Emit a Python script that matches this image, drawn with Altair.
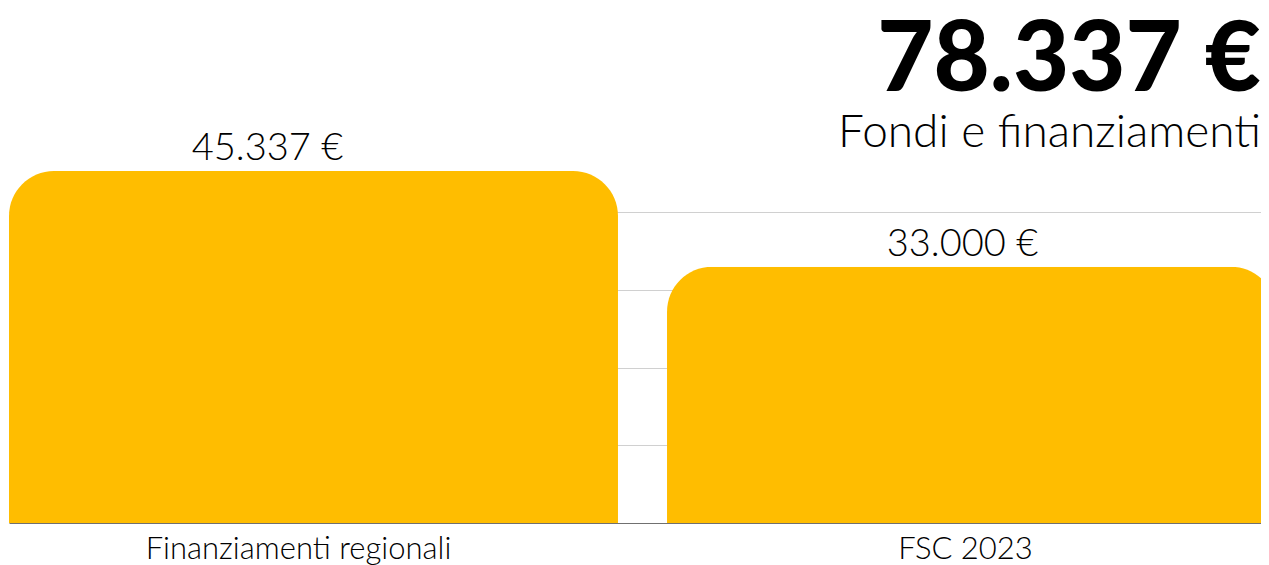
import altair as alt
import pandas as pd

categories = ["Finanziamenti regionali", "FSC 2023"]
values = [45337, 33000]
value_labels = ["45.337 €", "33.000 €"]
total_label = "78.337 €"
subtitle_text = "Fondi e finanziamenti"

df = pd.DataFrame({"cat": categories, "val": values, "lbl": value_labels})

BAR = "#FFBD00"

x = alt.X(
    "cat:N",
    sort=categories,
    scale=alt.Scale(range=[1, 1268], paddingInner=0.0745, paddingOuter=0),
    axis=alt.Axis(
        title=None,
        labelAngle=0,
        ticks=False,
        domainColor="#707070",
        domainWidth=1,
        labelFont="Lato",
        labelFontSize=31,
        labelFontWeight=300,
        labelColor="#000000",
        labelPadding=11,
        labelLimit=0,
        labelOffset={"condition": {"test": "datum.value === 'FSC 2023'", "value": -6}, "value": -15},
    ),
)
y = alt.Y(
    "val:Q",
    scale=alt.Scale(domain=[0, 45337], nice=False),
    axis=alt.Axis(
        title=None,
        labels=False,
        ticks=False,
        domain=False,
        grid=True,
        values=[10000, 20000, 30000, 40000],
        gridColor="#d0d0d0",
        gridWidth=1,
    ),
)

bars = alt.Chart(df).mark_bar(
    color=BAR, cornerRadiusTopLeft=45, cornerRadiusTopRight=45
).encode(x=x, y=y)

labels = alt.Chart(df).mark_text(
    font="Lato",
    fontSize=38,
    fontWeight=300,
    color="#000000",
    baseline="alphabetic",
    align="center",
    dy=-11,
    dx=alt.expr("datum.cat === 'FSC 2023' ? -9 : -46"),
).encode(x=alt.X("cat:N", sort=categories), y=alt.Y("val:Q"), text="lbl:N")

chart = (
    alt.layer(bars, labels)
    .properties(
        width=1253,
        height=352,
        autosize=alt.AutoSizeParams(type="none"),
        padding={"left": 0, "right": 0, "top": 163, "bottom": 42},
        title=alt.TitleParams(
            text=total_label,
            subtitle=subtitle_text,
            anchor="end",
            font="Lato",
            fontSize=97,
            fontWeight=900,
            color="#000000",
            lineHeight=84,
            subtitleFont="Lato",
            subtitleFontSize=46,
            subtitleFontWeight=300,
            subtitleColor="#000000",
            subtitlePadding=0,
            offset=-27,
            dx=-15,
        ),
    )
    .configure_view(stroke=None)
)

chart.save("out.html", embed_options={"renderer": "svg", "actions": False})
